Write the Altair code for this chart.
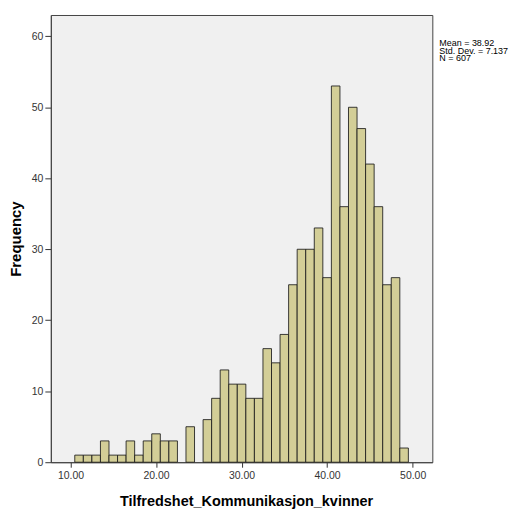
import altair as alt
import pandas as pd

bin_centers = [11, 12, 13, 14, 15, 16, 17, 18, 19, 20, 21, 22, 23, 24, 25, 26, 27, 28, 29, 30,
               31, 32, 33, 34, 35, 36, 37, 38, 39, 40, 41, 42, 43, 44, 45, 46, 47, 48, 49]
counts = [1, 1, 1, 3, 1, 1, 3, 1, 3, 4, 3, 3, 0, 5, 0, 6, 9, 13, 11, 11,
          9, 9, 16, 14, 18, 25, 30, 30, 33, 26, 53, 36, 50, 47, 42, 36, 25, 26, 2]
bin_width = 1.0
x_ticks = [10, 20, 30, 40, 50]
y_ticks = [0, 10, 20, 30, 40, 50, 60]
stats_lines = ["Mean = 38.92", "Std. Dev. = 7.137", "N = 607"]

df = pd.DataFrame({"center": bin_centers, "count": counts})
df["start"] = df["center"] - bin_width / 2
df["end"] = df["center"] + bin_width / 2
df = df[df["count"] > 0]

FONT = "Liberation Sans"

xscale = alt.Scale(domain=[7.7, 52.3], nice=False, zero=False)
yscale = alt.Scale(domain=[0, 63], nice=False)

bars = alt.Chart(df).mark_rect(
    color="#D3CE97", stroke="#1a1a1a", strokeWidth=1, strokeOpacity=0.85
).encode(
    x=alt.X("start:Q", scale=xscale,
            axis=alt.Axis(values=x_ticks, format=".2f", grid=False,
                          title="Tilfredshet_Kommunikasjon_kvinner",
                          titleFontSize=14.5, titleFontWeight="bold",
                          titleFont=FONT, titleColor="#000",
                          titlePadding=14, titleX=196,
                          labelFont=FONT, labelFontSize=10.5, labelColor="#333",
                          tickSize=5, tickColor="#333", domainColor="#444",
                          labelPadding=3)),
    x2="end:Q",
    y=alt.Y("count:Q", scale=yscale,
            axis=alt.Axis(values=y_ticks, format="d", grid=False,
                          title="Frequency",
                          titleFontSize=15, titleFontWeight="bold",
                          titleFont=FONT, titleColor="#000",
                          titlePadding=8,
                          labelFont=FONT, labelFontSize=10.5, labelColor="#333",
                          tickSize=6, tickColor="#333", domainColor="#444",
                          labelPadding=2)),
    y2=alt.datum(0),
)

stats = alt.Chart(pd.DataFrame({"t": ["\n".join(stats_lines)]})).mark_text(
    align="left", baseline="alphabetic", font=FONT, fontSize=9,
    lineBreak="\n", lineHeight=7.4, color="#000"
).encode(
    text="t:N",
    x=alt.value(390),
    y=alt.value(31.5),
)

chart = alt.layer(bars, stats).properties(
    width=383, height=449,
    autosize=alt.AutoSizeParams(type="none"),
    padding={"left": 43, "top": 6, "right": 80, "bottom": 58},
    background="white",
).configure_view(
    fill="#F0F0F0", stroke="#444", strokeWidth=1
)

chart.save("out.html", embed_options={"renderer": "svg", "actions": False})
